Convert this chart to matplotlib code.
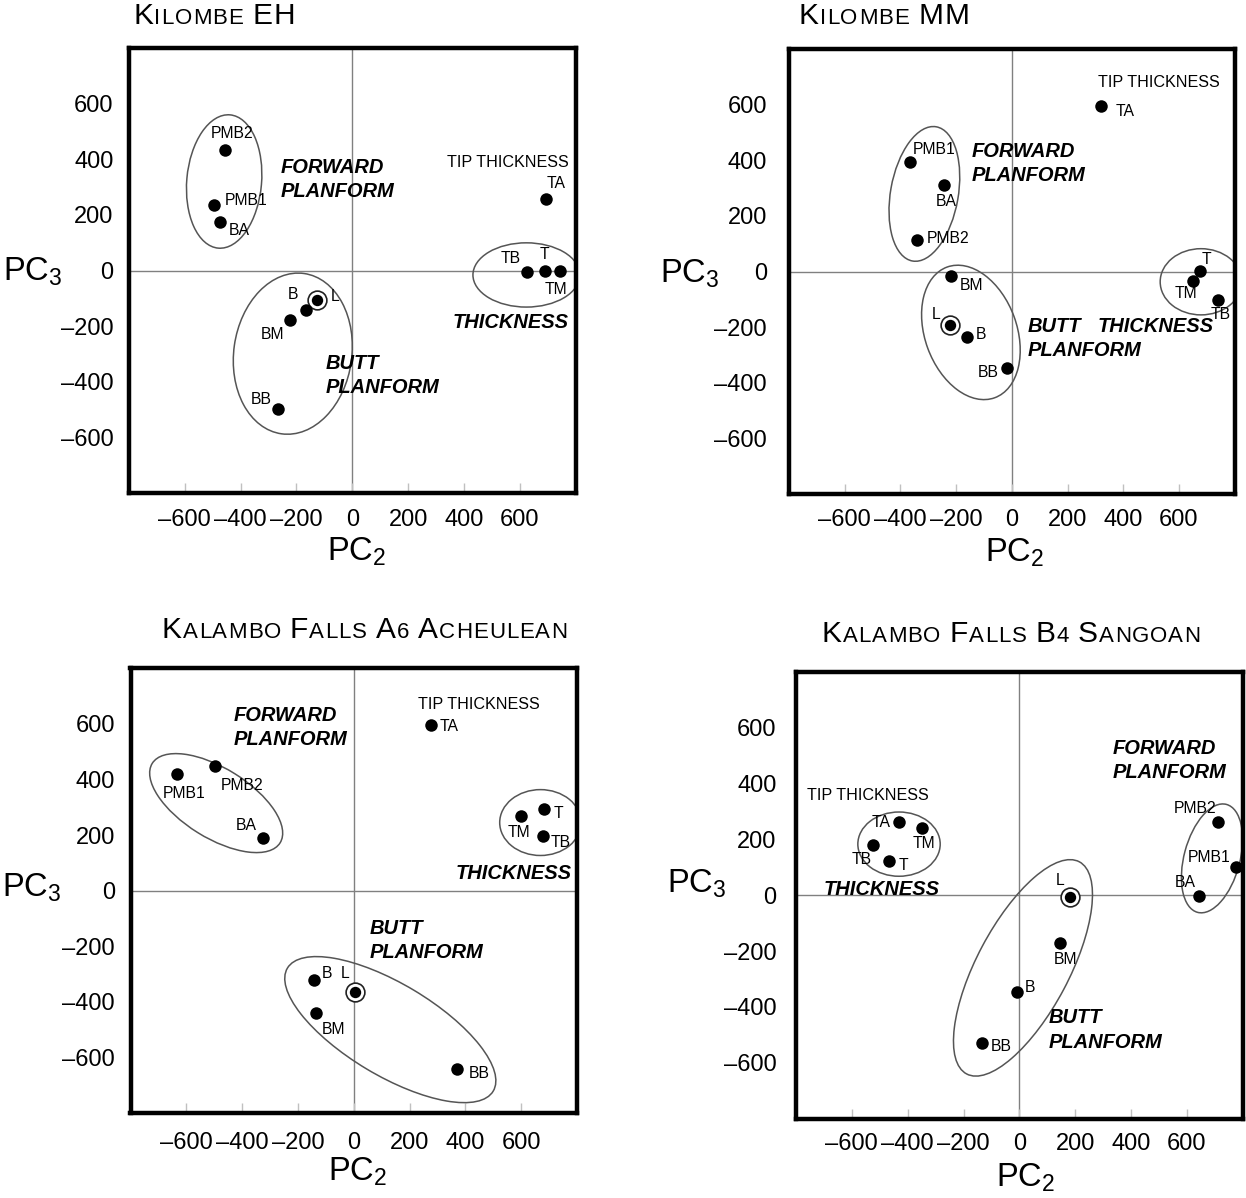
import matplotlib
matplotlib.use("Agg")
import matplotlib.pyplot as plt
from matplotlib.patches import Ellipse

plt.rcParams['font.family'] = ['Liberation Sans', 'DejaVu Sans']
plt.rcParams['mathtext.fontset'] = 'custom'
plt.rcParams['mathtext.rm'] = 'Liberation Sans'
plt.rcParams['mathtext.it'] = 'Liberation Sans:italic'
plt.rcParams['mathtext.bf'] = 'Liberation Sans:bold'
plt.rcParams['mathtext.default'] = 'regular'

# ------------------------------------------------------------------ data
ticks = [-600, -400, -200, 0, 200, 400, 600]
tick_labels = ['\u2013600', '\u2013400', '\u2013200', '0', '200', '400', '600']

eh_title = "Kilombe EH"
eh_names = ['PMB2', 'PMB1', 'BA', 'TA', 'TB', 'T', 'TM', 'L', 'B', 'BM', 'BB']
eh_pc2 = [-455, -496, -475, 693, 627, 690, 746, -127, -166, -222, -266]
eh_pc3 = [434, 237, 175, 257, -4, 0, -1, -105, -142, -178, -498]

mm_title = "Kilombe MM"
mm_names = ['TA', 'PMB1', 'BA', 'PMB2', 'T', 'TM', 'TB', 'BM', 'L', 'B', 'BB']
mm_pc2 = [319, -366, -244, -340, 676, 651, 739, -219, -223, -160, -17]
mm_pc3 = [595, 393, 311, 115, 3, -34, -101, -16, -192, -237, -348]

a6_title = "Kalambo Falls A6 Acheulean"
a6_names = ['PMB1', 'PMB2', 'BA', 'TA', 'T', 'TM', 'TB', 'B', 'L', 'BM', 'BB']
a6_pc2 = [-634, -498, -326, 277, 682, 600, 679, -144, 4, -134, 371]
a6_pc3 = [418, 449, 188, 596, 295, 267, 196, -322, -363, -441, -641]

b4_title = "Kalambo Falls B4 Sangoan"
b4_names = ['TA', 'TM', 'TB', 'T', 'L', 'BM', 'B', 'BB', 'PMB2', 'PMB1', 'BA']
b4_pc2 = [-431, -349, -525, -466, 180, 146, -9, -133, 711, 775, 645]
b4_pc3 = [264, 240, 179, 121, -7, -171, -348, -530, 264, 100, -1]

# ------------------------------------------------------------------ layout
W, H = 1246, 1198

panels = [
    dict(names=eh_names, x=eh_pc2, y=eh_pc3, title=eh_title,
         rect=(129, 48, 575.5, 493), title_xy=(133, 23.5),
         ylab_xy=(3, 281), xlab_xy=(327, 561), ypad=11, xpad=11.2,
         offsets={'PMB2': (5, 12, 'center'), 'PMB1': (7.6, 2.8, 'left'), 'BA': (6.2, -6, 'left'),
                  'TA': (7.4, 11.2, 'center'), 'TB': (-12.2, 9.6, 'center'), 'T': (0, 11.4, 'center'),
                  'TM': (-3, -13.6, 'center'), 'L': (13, 2.6, 'center'), 'B': (-9.6, 11, 'center'),
                  'BM': (-13, -10.6, 'center'), 'BB': (-11.8, 6.8, 'center')},
         ellipses=[(-459, 320, 268, 481, -5), (-213, -299, 423, 582, -8), (624, -16, 383, 231, 0)],
         groups=[("FORWARD\nPLANFORM", -255, 405, 'left'), ("BUTT\nPLANFORM", -94, -300, 'left'),
                 ("THICKNESS", 358, -152, 'left')],
         tip=(338, 389, 'left')),
    dict(names=mm_names, x=mm_pc2, y=mm_pc3, title=mm_title,
         rect=(789, 49, 1234.7, 494), title_xy=(799, 23.5),
         ylab_xy=(660, 282.5), xlab_xy=(985, 562), ypad=16, xpad=10.8,
         offsets={'TA': (17.4, -4, 'center'), 'PMB1': (2.4, 9.4, 'left'), 'BA': (1.4, -12.2, 'center'),
                  'PMB2': (6.6, 0.4, 'left'), 'T': (4.2, 7.8, 'center'), 'TM': (-5, -9, 'center'),
                  'TB': (2, -11, 'center'), 'BM': (15.2, -6.6, 'center'), 'L': (-9.6, 7.6, 'center'),
                  'B': (10.2, 1.8, 'center'), 'BB': (-13.4, -2.8, 'center')},
         ellipses=[(-314, 279, 243, 490, -10), (-147, -219, 330, 500, 20), (679, -37, 293, 238, 0)],
         groups=[("FORWARD\nPLANFORM", -143, 466, 'left'), ("BUTT\nPLANFORM", 57, -163, 'left'),
                 ("THICKNESS", 307, -163, 'left')],
         tip=(311, 678, 'left')),
    dict(names=a6_names, x=a6_pc2, y=a6_pc3, title=a6_title,
         rect=(130.5, 668.3, 577, 1113), title_xy=(162, 638),
         ylab_xy=(2, 897), xlab_xy=(328, 1181), ypad=11.2, xpad=13.5,
         offsets={'PMB1': (5.6, -13.8, 'center'), 'PMB2': (20, -14, 'center'), 'BA': (-11.8, 9.6, 'center'),
                  'TA': (6.2, -0.8, 'left'), 'T': (10.4, -3.2, 'center'), 'TM': (-1.6, -11.8, 'center'),
                  'TB': (12.4, -4.2, 'center'), 'B': (9.6, 5, 'center'), 'L': (-7, 13.2, 'center'),
                  'BM': (12.2, -11.6, 'center'), 'BB': (8, -3.4, 'left')},
         ellipses=[(-493, 315, 540, 250, -32), (669, 245, 292, 237, 0), (131, -500, 860, 330, -31)],
         groups=[("FORWARD\nPLANFORM", -431, 664, 'left'), ("THICKNESS", 781, 95, 'right'),
                 ("BUTT\nPLANFORM", 58, -103, 'left')],
         tip=(230, 668, 'left')),
    dict(names=b4_names, x=b4_pc2, y=b4_pc3, title=b4_title,
         rect=(796, 671.8, 1242.7, 1118.7), title_xy=(821.7, 641.7),
         ylab_xy=(667, 892.4), xlab_xy=(996, 1187), ypad=14, xpad=10.4,
         offsets={'TA': (-12.6, -0.6, 'center'), 'TM': (1.8, -11, 'center'), 'TB': (-8, -10, 'center'),
                  'T': (10.2, -3, 'center'), 'L': (-6.6, 12, 'center'), 'BM': (3.8, -11.8, 'center'),
                  'B': (9.2, 3.4, 'center'), 'BB': (6.2, -2.2, 'left'), 'PMB2': (-16.6, 9.4, 'center'),
                  'PMB1': (-19.4, 7.2, 'center'), 'BA': (-10.2, 9.2, 'center')},
         ellipses=[(-431, 183, 295, 230, 0), (13, -260, 860, 330, 62), (690, 132, 200, 400, -15)],
         groups=[("FORWARD\nPLANFORM", 335, 559, 'left'), ("THICKNESS", -700, 56, 'left'),
                 ("BUTT\nPLANFORM", 106, -405, 'left')],
         tip=(-760, 356, 'left')),
]

TITLE_BIG, TITLE_SMALL, TRACK, SPACE = 21.5, 16, 1.0, 8
TICK_FS, LABEL_FS, TIP_FS, GROUP_FS, AXLAB_FS = 17, 11.3, 11.6, 14.5, 23.5
LINE_STEP = 87  # data units between the two lines of a group label

fig = plt.figure(figsize=(W / 100, H / 100), dpi=100)
renderer = fig.canvas.get_renderer()


def draw_title(x, y, s):
    """Small-caps title: capitals large, lower-case and digits as small capitals."""
    cur = x
    for ch in s:
        if ch == ' ':
            cur += SPACE
            continue
        fs = TITLE_BIG if ch.isupper() else TITLE_SMALL
        t = fig.text(cur / W, 1 - y / H, ch.upper(), fontsize=fs, ha='left', va='baseline', color='black')
        bb = t.get_window_extent(renderer)
        cur = bb.x1 + TRACK


for p in panels:
    l, t, r, b = p['rect']
    ax = fig.add_axes([l / W, 1 - b / H, (r - l) / W, (b - t) / H])
    ax.set_xlim(-800, 800)
    ax.set_ylim(-800, 800)
    for sp in ax.spines.values():
        sp.set_linewidth(3.2)
        sp.set_color('black')
        sp.set_capstyle('projecting')
    ax.axhline(0, color='#808080', lw=1.0, zorder=1)
    ax.axvline(0, color='#808080', lw=1.0, zorder=1)

    ax.set_xticks(ticks)
    ax.set_xticklabels(tick_labels)
    ax.set_yticks(ticks)
    ax.set_yticklabels(tick_labels)
    ax.tick_params(axis='x', direction='in', length=7, width=1.0, color='#c0c0c0',
                   labelsize=TICK_FS, pad=p['xpad'])
    ax.tick_params(axis='y', length=0, labelsize=TICK_FS, pad=p['ypad'])

    for (cx, cy, w, h, ang) in p['ellipses']:
        ax.add_patch(Ellipse((cx, cy), w, h, angle=ang, fill=False, ec='#555555', lw=1.1, zorder=2))

    for name, xv, yv in zip(p['names'], p['x'], p['y']):
        if name == 'L':
            ax.plot([xv], [yv], 'o', ms=13.5, mfc='white', mec='#222222', mew=1.2, zorder=4)
            ax.plot([xv], [yv], 'o', ms=8.2, mfc='black', mec='none', zorder=5)
        else:
            ax.plot([xv], [yv], 'o', ms=9, mfc='black', mec='none', zorder=5)
        dx, dy, ha = p['offsets'][name]
        ax.annotate(name, (xv, yv), xytext=(dx, dy), textcoords='offset points',
                    ha=ha, va='center', fontsize=LABEL_FS, zorder=6)

    for txt, gx, gy, ha in p['groups']:
        for i, line in enumerate(txt.split('\n')):
            ax.text(gx, gy - i * LINE_STEP, line, ha=ha, va='top', fontsize=GROUP_FS,
                    fontweight='bold', fontstyle='italic', zorder=6)
    tx, ty, tha = p['tip']
    ax.text(tx, ty, 'TIP THICKNESS', ha=tha, va='center', fontsize=TIP_FS, zorder=6)

    draw_title(p['title_xy'][0], p['title_xy'][1], p['title'])
    yx, yy = p['ylab_xy']
    fig.text(yx / W, 1 - yy / H, 'PC$_3$', fontsize=AXLAB_FS, ha='left', va='baseline')
    xx, xy = p['xlab_xy']
    fig.text(xx / W, 1 - xy / H, 'PC$_2$', fontsize=AXLAB_FS, ha='left', va='baseline')

fig.savefig('out.png', dpi=100)
